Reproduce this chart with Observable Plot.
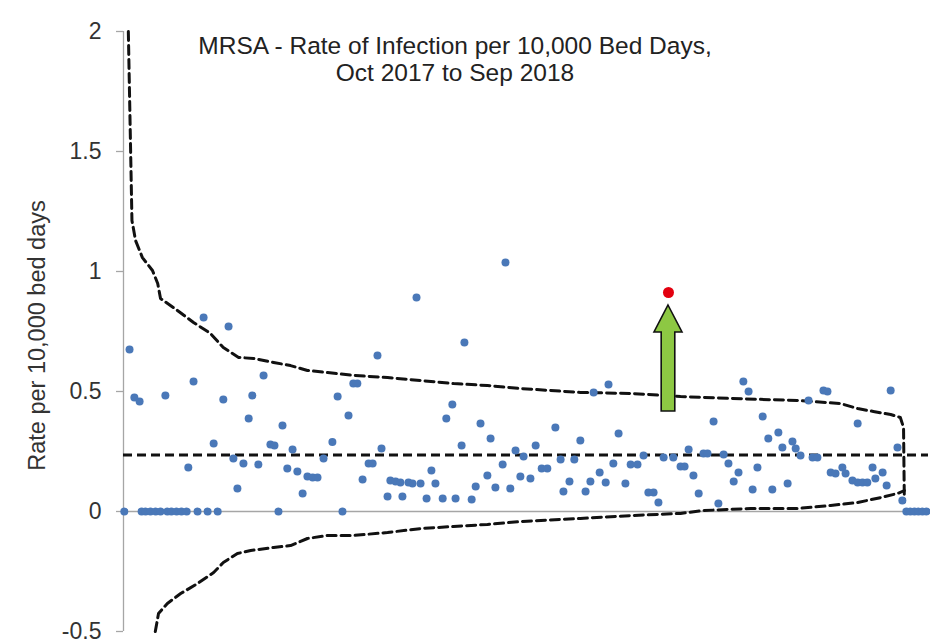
<!DOCTYPE html>
<html>
<head>
<meta charset="utf-8">
<script src="https://cdn.jsdelivr.net/npm/d3@7"></script>
<script src="https://cdn.jsdelivr.net/npm/@observablehq/plot@0.6"></script>
<style>
  body { margin: 0; background: #fff; }
  #wrap { position: relative; width: 930px; height: 642px; }
  #wrap svg { position: absolute; left: 0; top: 0; }
  #title { position: absolute; top: 32px; left: 0; width: 910px; text-align: center;
           font: 24.5px/27px "Liberation Sans", Arial, sans-serif; color: #222; }
</style>
</head>
<body>
<div id="wrap"></div>
<script>
// ---- Data ----
const titleLines = ["MRSA - Rate of Infection per 10,000 Bed Days,", "Oct 2017 to Sep 2018"];
const yLabel = "Rate per 10,000 bed days";
const yTicks = [-0.5, 0, 0.5, 1, 1.5, 2];

// providers ordered (rank) and their rates
const providerRank = [
  0.2, 4.5, 5.5, 6.7, 8.0, 9.2, 10.9, 11.9, 13.2, 14.4, 15.7, 18.4, 20.9, 23.4, 38.5, 54.4,
  194.5, 195.5, 196.5, 197.5, 198.5, 199.5,
  1.5, 2.7, 4.0, 10.4, 16.1, 17.4, 19.9, 22.4, 24.8, 26.1, 27.3, 28.3, 29.8, 31.1, 32.0, 33.5,
  34.8, 36.5, 37.5, 39.5, 40.7, 42.0, 43.2, 44.5, 45.7, 47.0, 48.2, 49.7, 51.9, 53.2, 55.9, 57.1,
  58.1, 59.4, 60.9, 61.9, 63.1, 64.1, 65.6, 66.3, 67.6, 68.8, 69.3, 70.8, 71.8, 72.8, 73.8, 75.3,
  76.5, 77.5, 79.3, 80.2, 81.7, 82.5, 84.0, 84.7, 86.5, 87.5, 88.7, 90.4, 91.2, 92.4, 94.2, 94.9,
  96.1, 97.4, 98.6, 99.4, 101.1, 102.4, 103.9, 105.3, 107.3, 108.6, 109.3, 110.8, 112.0, 113.5,
  114.8, 116.0, 116.8, 118.3, 119.8, 120.5, 121.7, 123.0, 124.7, 126.0, 127.7, 129.2, 130.4, 131.7,
  132.9, 134.2, 136.6, 138.4, 139.4, 140.4, 141.6, 142.9, 144.1, 145.1, 146.6, 147.8, 149.1, 150.3,
  151.6, 152.8, 154.0, 155.3, 156.3, 157.5, 158.8, 160.2, 161.2, 162.7, 163.7, 165.0, 166.2, 167.0,
  168.2, 170.2, 171.2, 172.4, 173.9, 174.9, 175.7, 176.9, 178.6, 179.4, 181.1, 182.4, 182.4, 183.6,
  184.8, 186.1, 186.8, 188.6, 189.6, 190.6, 192.3, 193.5
];
const providerRate = [
  0, 0, 0, 0, 0, 0, 0, 0, 0, 0, 0, 0, 0, 0, 0, 0,
  0, 0, 0, 0, 0, 0,
  0.675, 0.475, 0.458, 0.483, 0.183, 0.542, 0.808, 0.283, 0.467, 0.771, 0.221, 0.096, 0.2, 0.388, 0.483, 0.196,
  0.567, 0.279, 0.275, 0.358, 0.179, 0.258, 0.167, 0.075, 0.146, 0.142, 0.142, 0.221, 0.29, 0.479, 0.40, 0.533,
  0.533, 0.133, 0.2, 0.2, 0.65, 0.263, 0.0625, 0.129, 0.125, 0.121, 0.0625, 0.121, 0.117, 0.892, 0.117, 0.054,
  0.171, 0.117, 0.054, 0.388, 0.446, 0.054, 0.275, 0.704, 0.05, 0.104, 0.367, 0.15, 0.304, 0.1, 0.196, 1.038,
  0.096, 0.254, 0.146, 0.229, 0.1375, 0.275, 0.179, 0.179, 0.35, 0.217, 0.083, 0.125, 0.217, 0.296,
  0.083, 0.125, 0.496, 0.1625, 0.121, 0.529, 0.2, 0.325, 0.117, 0.196, 0.196, 0.233, 0.079, 0.079,
  0.0375, 0.225, 0.225, 0.1875, 0.1875, 0.258, 0.15, 0.075, 0.242, 0.242, 0.375, 0.033, 0.2375, 0.2,
  0.125, 0.1625, 0.542, 0.5, 0.092, 0.183, 0.396, 0.304, 0.092, 0.329, 0.267, 0.117, 0.292, 0.2625,
  0.233, 0.4625, 0.225, 0.225, 0.504, 0.5, 0.1625, 0.158, 0.183, 0.158, 0.129, 0.367, 0.121, 0.121,
  0.121, 0.183, 0.1375, 0.1625, 0.108, 0.504, 0.267, 0.046
];

// highlighted provider
const highlightRank = [135.4];
const highlightRate = [0.9125];

// overall mean rate
const meanRate = 0.235;

// upper and lower control limits
const upperRank = [1.2, 2.1, 3.0, 4.7, 7.2, 8.5, 9.2, 13.4, 17.4, 21.6, 24.8, 28.6, 32.3, 37.3, 41.5, 45.7,
  50.7, 57.1, 65.6, 73.8, 82.0, 90.4, 98.6, 113.5, 126.0, 138.4, 150.8, 167.5, 178.1, 182.4, 186.3, 190.6,
  193.0, 193.8, 194.0];
const upperRate = [2.0, 1.2125, 1.129, 1.058, 1.004, 0.95, 0.8875, 0.8375, 0.7875, 0.742, 0.683, 0.642,
  0.6375, 0.621, 0.608, 0.5875, 0.579, 0.567, 0.558, 0.546, 0.533, 0.525, 0.5125, 0.496, 0.492, 0.479,
  0.471, 0.4625, 0.45, 0.429, 0.417, 0.404, 0.392, 0.35, 0.04];
const lowerRank = [7.9, 8.7, 10.9, 14.2, 18.4, 22.4, 24.8, 28.3, 31.6, 37.3, 41.5, 45.7, 50.7, 57.1, 65.6,
  73.8, 82.0, 90.4, 98.6, 113.5, 126.0, 138.4, 144.1, 155.8, 167.5, 175.7, 182.4, 188.1, 192.3, 194.0];
const lowerRate = [-0.5, -0.425, -0.383, -0.342, -0.3, -0.254, -0.2125, -0.175, -0.1625, -0.15, -0.142,
  -0.1125, -0.1, -0.1, -0.0875, -0.071, -0.0625, -0.054, -0.042, -0.029, -0.017, -0.008, 0.004, 0.0125,
  0.0125, 0.025, 0.0375, 0.058, 0.075, 0.0875];

// ---- Build tables ----
const providers = providerRank.map((r, i) => ({rank: r, rate: providerRate[i]}));
const highlight = highlightRank.map((r, i) => ({rank: r, rate: highlightRate[i]}));
const upper = upperRank.map((r, i) => ({rank: r, rate: upperRate[i]}));
const lower = lowerRank.map((r, i) => ({rank: r, rate: lowerRate[i]}));

const dash = {stroke: "#111", strokeWidth: 3, strokeDasharray: "9,5"};

// arrow pointing to the highlighted provider (offsets in px from the point)
function arrowMark(index, scales) {
  const cx = scales.x(highlight[0].rank);
  const cy = scales.y(highlight[0].rate);
  const tip = cy + 13, headBase = cy + 40, bottom = cy + 119, hw = 14, sw = 6.8;
  const d = `M${cx},${tip} L${cx + hw},${headBase} L${cx + sw},${headBase} L${cx + sw},${bottom}` +
            ` L${cx - sw},${bottom} L${cx - sw},${headBase} L${cx - hw},${headBase} Z`;
  const path = document.createElementNS("http://www.w3.org/2000/svg", "path");
  path.setAttribute("d", d);
  path.setAttribute("fill", "#8dc843");
  path.setAttribute("stroke", "#111");
  path.setAttribute("stroke-width", "1.6");
  path.setAttribute("stroke-linejoin", "miter");
  return path;
}

const chart = Plot.plot({
  width: 930,
  height: 642,
  marginLeft: 123,
  marginRight: 2,
  marginTop: 31,
  marginBottom: 11,
  style: {fontFamily: "'Liberation Sans', Arial, sans-serif", fontSize: "23px", background: "#fff", color: "#333"},
  x: {type: "linear", domain: [0, 200], axis: null},
  y: {type: "linear", domain: [-0.5, 2], axis: null},
  marks: [
    Plot.ruleY([0], {stroke: "#a6a6a6", strokeWidth: 1.3}),
    Plot.ruleX([0], {stroke: "#a6a6a6", strokeWidth: 1.3}),
    Plot.axisY({ticks: yTicks, tickSize: 7, tickPadding: 15, tickFormat: d => String(d),
                label: null, stroke: "#a6a6a6", fill: "#333", fontSize: 23, strokeWidth: 1.3}),
    Plot.text([yLabel], {frameAnchor: "left", text: d => d, rotate: -90, textAnchor: "middle",
                         dx: -86, dy: 4, fill: "#333", fontSize: 23.5}),
    Plot.line(upper, {x: "rank", y: "rate", ...dash}),
    Plot.line(lower, {x: "rank", y: "rate", ...dash}),
    Plot.ruleY([meanRate], {...dash}),
    Plot.dot(providers, {x: "rank", y: "rate", r: 4, fill: "#4a78b8", stroke: "none"}),
    Plot.dot(highlight, {x: "rank", y: "rate", r: 5.5, fill: "#e3000f", stroke: "none"}),
    arrowMark
  ]
});

const wrap = document.getElementById("wrap");
wrap.appendChild(chart);
const title = document.createElement("div");
title.id = "title";
title.innerHTML = titleLines.join("<br>");
wrap.appendChild(title);
</script>
</body>
</html>
